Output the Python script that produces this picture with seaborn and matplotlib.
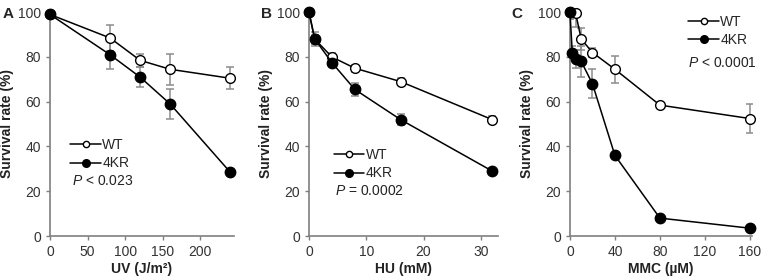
import seaborn as sns
import matplotlib.pyplot as plt
from matplotlib.lines import Line2D
import pandas as pd

sns.set_style("ticks")
plt.rcParams['font.family'] = ['Liberation Sans', 'DejaVu Sans']
plt.rcParams['mathtext.fontset'] = 'custom'
plt.rcParams['mathtext.it'] = 'Liberation Sans:italic'
plt.rcParams['mathtext.rm'] = 'Liberation Sans'

# Panel A - UV
uv_dose = [0, 80, 120, 160, 240]
uv_wt = [99, 88.5, 78.5, 74.5, 70.5]
uv_wt_err = [0, 6, 3, 7, 5]
uv_kr = [99, 81, 71, 59, 28.5]
uv_kr_err = [0, 6.5, 4.5, 6.5, 1]

# Panel B - HU
hu_dose = [0, 1, 4, 8, 16, 32]
hu_wt = [100, 88, 80, 75, 69, 52]
hu_wt_err = [0, 2, 2, 1.5, 1.5, 1.5]
hu_kr = [100, 88, 77.5, 65.5, 52, 29]
hu_kr_err = [0, 3, 2, 3, 2.5, 1]

# Panel C - MMC
mmc_wt_dose = [0, 5, 10, 20, 40, 80, 160]
mmc_wt = [100, 99.5, 88, 82, 74.5, 58.5, 52.5]
mmc_wt_err = [3, 6, 5, 2, 6, 1, 6.5]
mmc_kr_dose = [0, 2, 5, 10, 20, 40, 80, 160]
mmc_kr = [100, 82, 79, 78, 68, 36, 8, 3.5]
mmc_kr_err = [3, 3, 4, 7, 6.5, 1, 1, 1]

panels = [
    dict(letter="A", letter_x=3, xlabel="UV (J/m²)", xlim=245, xticks=[0, 50, 100, 150, 200],
         wt=(uv_dose, uv_wt, uv_wt_err), kr=(uv_dose, uv_kr, uv_kr_err),
         ptext="$\\mathit{P}$ < 0.023", left=50, width=184,
         leg_x=0.11, leg_y=36.5, p_x=0.12, p_y=24.5),
    dict(letter="B", letter_x=261, xlabel="HU (mM)", xlim=33, xticks=[0, 10, 20, 30],
         wt=(hu_dose, hu_wt, hu_wt_err), kr=(hu_dose, hu_kr, hu_kr_err),
         ptext="$\\mathit{P}$ = 0.0002", left=309, width=189,
         leg_x=0.13, leg_y=32, p_x=0.14, p_y=20),
    dict(letter="C", letter_x=511, xlabel="MMC (µM)", xlim=162, xticks=[0, 40, 80, 120, 160],
         wt=(mmc_wt_dose, mmc_wt, mmc_wt_err), kr=(mmc_kr_dose, mmc_kr, mmc_kr_err),
         ptext="$\\mathit{P}$ < 0.0001", left=570, width=182,
         leg_x=0.65, leg_y=91.5, p_x=0.65, p_y=77.5),
]

W, H = 761, 280
fig = plt.figure(figsize=(W / 100, H / 100), dpi=100)
spine_col = "#7f7f7f"
err_col = "#8c8c8c"
fs = 10

for p in panels:
    ax = fig.add_axes([p["left"] / W, 44 / H, p["width"] / W, 226 / H])
    for key, fill in (("wt", "white"), ("kr", "black")):
        x, y, e = p[key]
        ax.errorbar(x, y, yerr=e, fmt="none", ecolor=err_col, elinewidth=1.1,
                    capsize=3, capthick=1.1, zorder=1)
        df = pd.DataFrame({"x": x, "y": y})
        sns.lineplot(data=df, x="x", y="y", ax=ax, color="black", lw=1.1,
                     marker="o", markersize=7 if key == "wt" else 7.5,
                     markerfacecolor=fill, markeredgecolor="black",
                     markeredgewidth=1.0, zorder=3, clip_on=False)
    ax.set_xlim(0, p["xlim"])
    ax.set_ylim(0, 101)
    ax.set_xticks(p["xticks"])
    ax.set_yticks([0, 20, 40, 60, 80, 100])
    ax.set_xlabel(p["xlabel"], fontsize=fs, fontweight="bold", color="#222222", labelpad=2)
    ax.set_ylabel("Survival rate (%)", fontsize=fs, fontweight="bold", color="#222222", labelpad=3)
    ax.tick_params(labelsize=fs, colors=spine_col, labelcolor="#333333", length=3, width=1)
    for s in ("top", "right"):
        ax.spines[s].set_visible(False)
    for s in ("left", "bottom"):
        ax.spines[s].set_color(spine_col)
        ax.spines[s].set_linewidth(1.2)
    handles = [
        Line2D([], [], color="black", lw=1.1, marker="o", markersize=4.5,
               markerfacecolor="white", markeredgecolor="black", label="WT"),
        Line2D([], [], color="black", lw=1.1, marker="o", markersize=5.5,
               markerfacecolor="black", label="4KR"),
    ]
    ax.legend(handles=handles, loc="center left", bbox_to_anchor=(p["leg_x"], p["leg_y"]),
              bbox_transform=ax.get_yaxis_transform(), frameon=False,
              fontsize=fs, handlelength=2.2, handletextpad=0.1, labelspacing=0.3,
              borderaxespad=0, borderpad=0)
    ax.text(p["p_x"], p["p_y"], p["ptext"], transform=ax.get_yaxis_transform(), fontsize=fs,
            color="#222222", va="center")
    fig.text(p["letter_x"] / W, 1 - 14 / H, p["letter"], fontsize=11,
             fontweight="bold", va="center", ha="left")

fig.savefig("out.png", dpi=100)
